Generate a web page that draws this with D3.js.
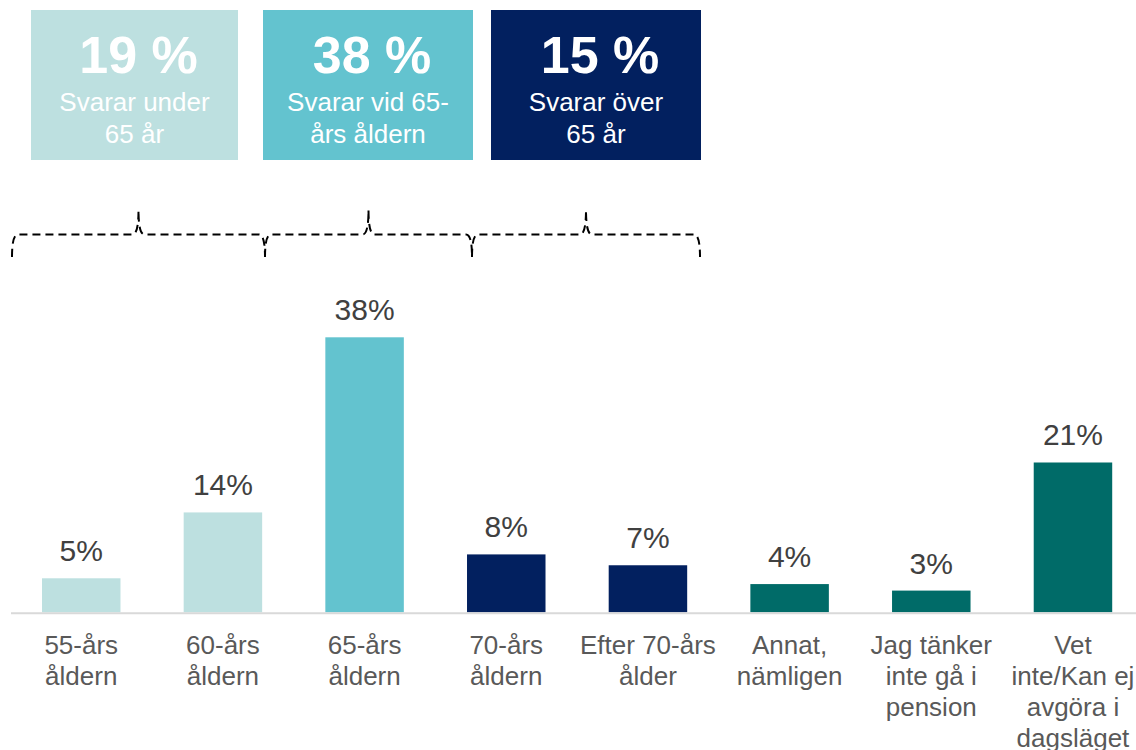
<!DOCTYPE html>
<html>
<head>
<meta charset="utf-8">
<script src="https://cdn.jsdelivr.net/npm/d3@7"></script>
<style>
  html, body { margin: 0; padding: 0; background: #ffffff; }
  svg { display: block; font-family: "Liberation Sans", Arial, sans-serif; }
</style>
</head>
<body>
<svg id="chart" width="1136" height="750"></svg>
<script>
// ---- Data ----
const categories = [
  "55-års\nåldern",
  "60-års\nåldern",
  "65-års\nåldern",
  "70-års\nåldern",
  "Efter 70-års\nålder",
  "Annat,\nnämligen",
  "Jag tänker\ninte gå i\npension",
  "Vet\ninte/Kan ej\navgöra i\ndagsläget"
];
const values = [4.7, 13.8, 38, 8, 6.5, 3.9, 3, 20.7];
const valueLabels = ["5%", "14%", "38%", "8%", "7%", "4%", "3%", "21%"];
const groups = ["under", "under", "vid", "over", "over", "other", "other", "other"];

const summaryValues = ["19 %", "38 %", "15 %"];
const summaryTexts = ["Svarar under\n65 år", "Svarar vid 65-\nårs åldern", "Svarar över\n65 år"];
const summaryGroups = ["under", "vid", "over"];

// ---- Styles ----
const colors = { under: "#bde0e0", vid: "#63c3cf", over: "#02205f", other: "#006b68" };

const svg = d3.select("#chart");

// ---- Scales ----
const x = d3.scaleBand()
  .domain(d3.range(categories.length))
  .range([10.4, 1143.8])
  .paddingInner(0.446)
  .paddingOuter(0.223);

const y = d3.scaleLinear().domain([0, 38]).range([612.3, 337.3]);

// ---- Bars ----
svg.append("g").selectAll("rect")
  .data(values)
  .join("rect")
  .attr("x", (d, i) => x(i))
  .attr("width", x.bandwidth())
  .attr("y", d => y(d))
  .attr("height", d => y(0) - y(d))
  .attr("fill", (d, i) => colors[groups[i]]);

// ---- Axis baseline ----
svg.append("line")
  .attr("x1", 11).attr("x2", 1136)
  .attr("y1", y(0) + 1).attr("y2", y(0) + 1)
  .attr("stroke", "#d9d9d9").attr("stroke-width", 2);

// ---- Value labels ----
svg.append("g").selectAll("text")
  .data(values)
  .join("text")
  .attr("x", (d, i) => x(i) + x.bandwidth() / 2)
  .attr("y", d => y(d) - 17)
  .attr("text-anchor", "middle")
  .attr("font-size", 30)
  .attr("fill", "#404040")
  .text((d, i) => valueLabels[i]);

// ---- Category labels ----
const catG = svg.append("g");
categories.forEach((c, i) => {
  const t = catG.append("text")
    .attr("text-anchor", "middle")
    .attr("font-size", 26)
    .attr("fill", "#595959");
  c.split("\n").forEach((line, j) => {
    t.append("tspan")
      .attr("x", x(i) + x.bandwidth() / 2)
      .attr("y", 654 + j * 31)
      .text(line);
  });
});

// ---- Summary boxes ----
const boxes = [[31, 238], [263, 473], [491, 701]];
boxes.forEach((b, i) => {
  const g = svg.append("g");
  const cx = (b[0] + b[1]) / 2;
  g.append("rect")
    .attr("x", b[0]).attr("y", 10)
    .attr("width", b[1] - b[0]).attr("height", 150)
    .attr("fill", colors[summaryGroups[i]]);
  g.append("text")
    .attr("x", cx + 4).attr("y", 73)
    .attr("text-anchor", "middle")
    .attr("font-size", 52).attr("font-weight", "bold")
    .attr("fill", "#ffffff")
    .text(summaryValues[i]);
  const t = g.append("text")
    .attr("text-anchor", "middle")
    .attr("font-size", 26)
    .attr("fill", "#ffffff");
  summaryTexts[i].split("\n").forEach((line, j) => {
    t.append("tspan").attr("x", cx).attr("y", 111 + j * 32).text(line);
  });
});

// ---- Braces ----
function bracePath(x0, x1, yMid, yTop, yBot) {
  const r = 6;
  const tip = (x0 + x1) / 2;
  return [
    `M${x0},${yBot}`,
    `Q${x0},${yMid} ${x0 + r},${yMid}`,
    `L${tip - r},${yMid}`,
    `Q${tip},${yMid} ${tip},${yTop}`,
    `Q${tip},${yMid} ${tip + r},${yMid}`,
    `L${x1 - r},${yMid}`,
    `Q${x1},${yMid} ${x1},${yBot}`
  ].join(" ");
}
const braces = [[12, 265], [265, 472], [472, 700]];
braces.forEach(br => {
  svg.append("path")
    .attr("d", bracePath(br[0], br[1], 234.5, 210, 257))
    .attr("fill", "none")
    .attr("stroke", "#000000")
    .attr("stroke-width", 2)
    .attr("stroke-dasharray", "8,5");
});
</script>
</body>
</html>
